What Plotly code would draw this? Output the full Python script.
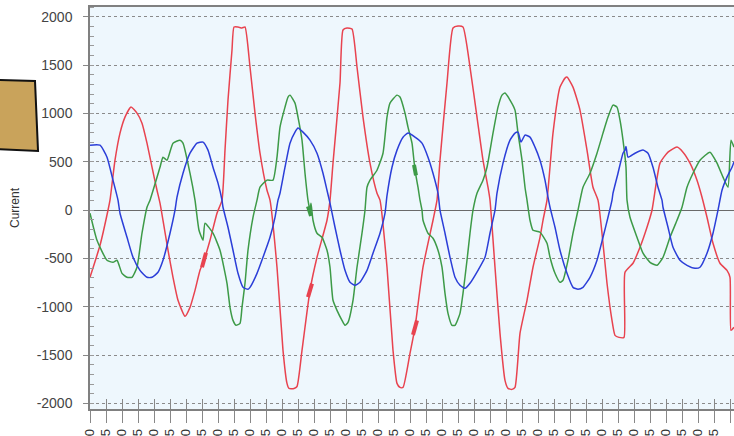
import plotly.graph_objects as go

# Three-phase current record, 6.4 kHz sampling (sample index, amperes)
FS_KHZ = 6.4

phase_a = [
    (0, -694), (10, -363), (18, 0), (20, 104), (25, 518), (30, 798), (35, 964),
    (41, 1067), (47, 1005), (52, 901), (57, 694), (62, 445), (67, 207), (70, 73),
    (73, -104), (78, -414), (83, -694), (88, -932), (95, -1098), (100, -1005),
    (105, -829), (110, -622), (114, -518), (120, -311), (127, -31), (132, 104),
    (135, 622), (138, 1140), (142, 1658), (144, 1896), (148, 1896), (152, 1886),
    (155, 1896), (160, 1482), (165, 1005), (170, 590), (177, 207), (180, 104),
    (187, -590), (193, -1450), (197, -1792), (199, -1844), (204, -1844), (207, -1824),
    (212, -1450), (220, -829), (227, -487), (237, -104), (240, 104), (243, 487),
    (250, 1316), (253, 1865), (257, 1886), (262, 1875), (267, 1482), (273, 964),
    (280, 487), (287, 176), (290, 104), (297, -590), (303, -1450), (307, -1792),
    (310, -1834), (313, -1834), (320, -1481), (325, -1212), (333, -590), (343, -104),
    (347, 104), (350, 518), (357, 1316), (363, 1886), (368, 1906), (373, 1896),
    (380, 1482), (387, 964), (393, 518), (398, 238), (400, 104), (405, -590),
    (410, -1274), (415, -1761), (418, -1844), (422, -1854), (425, -1834), (430, -1274),
    (437, -932), (443, -590), (450, -280), (453, -104), (457, 104), (463, 798),
    (470, 1274), (475, 1367), (477, 1378), (483, 1274), (490, 1036), (497, 622),
    (503, 238), (508, 104), (512, -238), (517, -756), (522, -1140), (525, -1295),
    (529, -1316), (534, -1316), (535, -642), (543, -549), (550, -383), (557, -176),
    (562, 0), (570, 487), (578, 601), (587, 653), (593, 601), (600, 487), (607, 311),
    (612, 135), (617, -73), (623, -342), (630, -549), (637, -622), (640, -694),
    (641, -1243), (644, -1212),
]

phase_b = [
    (0, -31), (7, -311), (17, -518), (23, -539), (27, -518), (32, -653), (37, -694),
    (42, -694), (47, -590), (52, -238), (57, 31), (60, 104), (70, 445), (73, 549),
    (77, 518), (83, 694), (90, 725), (93, 694), (100, 383), (105, 104), (109, -207),
    (113, -311), (115, -135), (123, -238), (130, -414), (137, -756), (140, -1005),
    (143, -1140), (146, -1191), (150, -1171), (152, -1005), (155, -756), (158, -414),
    (163, -73), (167, 104), (170, 238), (177, 311), (183, 311), (187, 549), (190, 860),
    (195, 1067), (198, 1171), (200, 1191), (205, 1108), (208, 964), (212, 725),
    (215, 383), (218, 104), (220, 0), (221, 73), (223, -104), (227, -238), (232, -280),
    (237, -414), (240, -590), (243, -932), (247, -1036), (252, -1140), (255, -1191),
    (258, -1160), (263, -932), (267, -590), (272, -238), (275, 0), (277, 238),
    (280, 311), (287, 414), (293, 590), (297, 964), (300, 1108), (307, 1191),
    (310, 1171), (315, 1005), (318, 860), (322, 694), (325, 414), (328, 238),
    (330, 104), (332, 0), (333, -104), (338, -238), (343, -290), (348, -414),
    (352, -590), (355, -860), (358, -1067), (362, -1191), (365, -1191), (370, -1067),
    (373, -860), (377, -518), (380, -238), (383, 0), (387, 176), (393, 311), (397, 445),
    (403, 798), (408, 1067), (412, 1191), (415, 1212), (420, 1140), (425, 1036),
    (428, 798), (432, 518), (435, 238), (437, 104), (440, -104), (443, -207),
    (450, -228), (457, -342), (460, -487), (465, -653), (470, -746), (473, -725),
    (478, -518), (483, -238), (488, 0), (493, 238), (500, 383), (507, 590), (513, 798),
    (518, 964), (523, 1088), (527, 1067), (530, 932), (533, 725), (536, 445),
    (537, 104), (540, -73), (547, -280), (553, -445), (560, -539), (567, -570),
    (573, -487), (580, -280), (587, -104), (592, 31), (597, 238), (603, 383),
    (610, 518), (620, 601), (627, 487), (633, 342), (638, 238), (641, 725), (644, 653),
]

phase_c = [
    (0, 673), (10, 673), (17, 549), (23, 311), (28, 104), (30, -31), (37, -280),
    (43, -487), (50, -622), (57, -694), (62, -694), (68, -642), (73, -518), (80, -238),
    (85, 0), (87, 135), (93, 383), (100, 590), (107, 694), (113, 705), (118, 622),
    (123, 445), (128, 280), (132, 104), (133, 31), (138, -176), (143, -414),
    (148, -653), (153, -798), (158, -818), (160, -798), (167, -653), (173, -487),
    (180, -280), (185, -73), (188, 104), (190, 176), (195, 445), (200, 694), (205, 808),
    (208, 850), (213, 808), (220, 725), (227, 590), (233, 383), (237, 207), (240, 73),
    (245, -176), (250, -414), (255, -622), (260, -746), (265, -777), (270, -746),
    (277, -622), (283, -445), (290, -238), (295, -31), (297, 150), (302, 445),
    (307, 622), (313, 756), (318, 798), (325, 756), (332, 694), (338, 549), (343, 383),
    (348, 176), (350, 0), (355, -238), (360, -487), (365, -694), (370, -777),
    (375, -808), (380, -756), (388, -622), (395, -487), (400, -238), (405, 0),
    (407, 176), (413, 487), (420, 725), (425, 798), (428, 808), (431, 705), (435, 777),
    (440, 756), (445, 653), (450, 518), (455, 311), (458, 135), (460, 31), (465, -176),
    (470, -414), (477, -653), (483, -798), (488, -818), (493, -798), (500, -694),
    (507, -518), (513, -280), (518, -73), (522, 104), (523, 176), (528, 383),
    (533, 590), (535, 622), (536, 660), (538, 549), (545, 590), (553, 622), (558, 590),
    (563, 445), (568, 238), (572, 104), (573, 31), (578, -176), (583, -383),
    (590, -518), (597, -570), (605, -601), (610, -590), (617, -445), (623, -238),
    (628, 0), (632, 207), (637, 342), (642, 445), (644, 500),
]

# Short noisy bursts drawn heavier on top of the traces
burst_a = [(112, -590), (116, -440), None, (218, -900), (222, -760), None,
           (323, -1290), (327, -1140)]
burst_b = [(218, 40), (221, -60), None, (324, 470), (326, 360)]

COLORS = {"a": "#e8434f", "b": "#3d9a47", "c": "#2b3ed8"}

y_ticks = [2000, 1500, 1000, 500, 0, -500, -1000, -1500, -2000]
x_ticks = [i * 2.5 for i in range(0, 41)]
x_labels = [f"{t:.1f}" for t in x_ticks]


def split(points):
    xs, ys = [], []
    for p in points:
        if p is None:
            xs.append(None)
            ys.append(None)
        else:
            xs.append(p[0] / FS_KHZ)
            ys.append(p[1])
    return xs, ys


fig = go.Figure()
for key, pts in (("a", phase_a), ("b", phase_b), ("c", phase_c)):
    xs, ys = split(pts)
    fig.add_trace(go.Scatter(x=xs, y=ys, mode="lines", name=f"I{key}",
                             line=dict(color=COLORS[key], width=1.5,
                                       shape="spline", smoothing=0.5),
                             hoverinfo="skip"))

for key, pts in (("a", burst_a), ("b", burst_b)):
    xs, ys = split(pts)
    fig.add_trace(go.Scatter(x=xs, y=ys, mode="lines", showlegend=False,
                             line=dict(color=COLORS[key], width=4),
                             hoverinfo="skip"))

# an empty trace so the overlaid tick axis is laid out
fig.add_trace(go.Scatter(x=[None], y=[None], xaxis="x2", yaxis="y",
                         mode="lines", showlegend=False, hoverinfo="skip"))

# Plot-area geometry in pixels (for the decorative tag on the left)
W, H = 734, 436
L, R, T, B = 90, 0, 7, 27
pw, ph = W - L - R, H - T - B


def px(x, y):
    return (x - L) / pw, (H - B - y) / ph


corners = [px(-3, 80), px(35, 81), px(38, 151), px(-3, 149)]
path = "M " + " L ".join(f"{cx:.4f},{cy:.4f}" for cx, cy in corners) + " Z"
fig.add_shape(type="path", path=path, xref="paper", yref="paper",
              fillcolor="#c9a35b", line=dict(color="#111111", width=2),
              layer="above")

axis_font = dict(family="Liberation Sans, Arial, sans-serif", size=14, color="#444444")

fig.update_layout(
    width=W, height=H,
    margin=dict(l=L, r=R, t=T, b=B, pad=0, autoexpand=False),
    paper_bgcolor="white",
    plot_bgcolor="#eef7fd",
    showlegend=False,
    font=axis_font,
    hovermode=False,
    xaxis=dict(
        range=[0, pw / FS_KHZ],
        tickvals=x_ticks, ticktext=x_labels, tickangle=-90,
        ticks="outside", ticklen=12, tickcolor="#888888", tickwidth=1,
        ticklabelstandoff=1, automargin=False,
        showgrid=False, zeroline=False,
        showline=True, linecolor="#808080", linewidth=1.5, mirror=True,
        tickfont=dict(size=13, color="#333333"),
    ),
    # second time axis only adds the inward half of the tick marks
    xaxis2=dict(overlaying="x", matches="x", anchor="y", side="bottom",
                tickvals=x_ticks, ticks="inside", ticklen=10, tickcolor="#888888",
                showticklabels=False, showgrid=False, zeroline=False,
                showline=False, automargin=False),
    yaxis=dict(
        range=[-2057, 2103],
        tickvals=y_ticks, ticktext=[str(v) for v in y_ticks],
        ticks="outside", ticklen=5, tickcolor="#888888",
        ticklabelstandoff=8, automargin=False,
        minor=dict(ticks="inside", ticklen=4, dtick=100, tickcolor="#9a9a9a",
                   showgrid=False),
        showgrid=True, gridcolor="#8a8a8a", griddash="dot", gridwidth=1,
        zeroline=True, zerolinecolor="#6a6a6a", zerolinewidth=1.2,
        showline=True, linecolor="#808080", linewidth=1.5, mirror=True,
        title=dict(text="Current", font=dict(size=12, color="#333333"), standoff=14),
    ),
)

fig.write_html("out.html")
